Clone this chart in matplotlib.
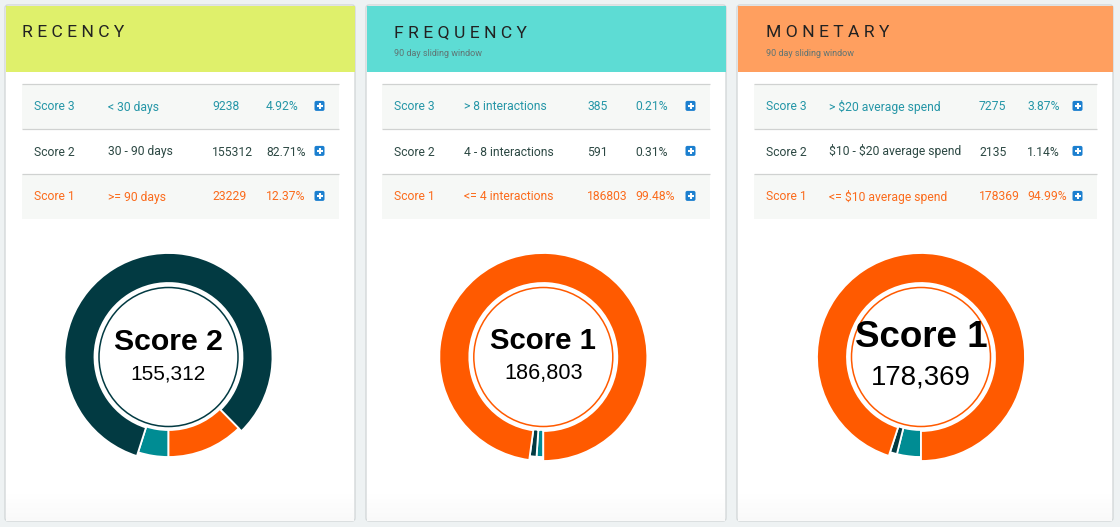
import matplotlib
matplotlib.use("Agg")
import matplotlib.pyplot as plt
from matplotlib.patches import FancyBboxPatch, Rectangle, Circle

# ---------------- data ----------------
titles = ["RECENCY", "FREQUENCY", "MONETARY"]
subtitles = ["", "90 day sliding window", "90 day sliding window"]
score_labels = ["Score 3", "Score 2", "Score 1"]
recency_conditions = ["< 30 days", "30 - 90 days", ">= 90 days"]
frequency_conditions = ["> 8 interactions", "4 - 8 interactions", "<= 4 interactions"]
monetary_conditions = ["> $20 average spend", "$10 - $20 average spend", "<= $10 average spend"]
recency_counts = [9238, 155312, 23229]
frequency_counts = [385, 591, 186803]
monetary_counts = [7275, 2135, 178369]
recency_pcts = ["4.92%", "82.71%", "12.37%"]
frequency_pcts = ["0.21%", "0.31%", "99.48%"]
monetary_pcts = ["3.87%", "1.14%", "94.99%"]
selected_scores = ["Score 2", "Score 1", "Score 1"]

conditions = [recency_conditions, frequency_conditions, monetary_conditions]
counts = [recency_counts, frequency_counts, monetary_counts]
pcts = [recency_pcts, frequency_pcts, monetary_pcts]

# ---------------- style / layout ----------------
W, H = 1120, 527
page_bg = "#eef2f3"
header_colors = ["#dff06b", "#5ddcd4", "#ff9f5f"]
text_colors = ["#2596a7", "#2c4843", "#fb6b1c"]
ring_colors = ["#008c93", "#023a42", "#ff5a00"]
icon_color = "#1b7fcf"
min_slice_fraction = 0.011  # smallest visible slice, as the chart library renders it

cards = [(5, 355), (366, 726), (737, 1113)]
card_top, card_bottom, header_bottom = 5, 521, 72
tables = [(22, 339), (382, 710), (754, 1097)]
col_x = [
    (34, 108, 212, 266, 319.5),
    (394, 464, 587, 635, 690.5),
    (766, 829, 979, 1027, 1077.5),
]
title_x = [22, 394, 766]
row_tops = [84, 129, 174]
row_h = 45
row_baselines = [110.5, 155.5, 200.5]
donut_centers = [(168.5, 357), (543.3, 357), (921, 357)]
score_fs = [21.8, 21.2, 26.5]
num_fs = [15.0, 15.6, 19.9]
score_base = [350, 349.3, 346.7]
num_base = [379.3, 379.3, 384]

fig = plt.figure(figsize=(W / 100, H / 100), dpi=100)
fig.patch.set_facecolor(page_bg)
ax = fig.add_axes([0, 0, 1, 1])
ax.set_xlim(0, W)
ax.set_ylim(H, 0)
ax.axis("off")
ax.set_facecolor(page_bg)

for i in range(3):
    x0, x1 = cards[i]
    card = FancyBboxPatch((x0, card_top), x1 - x0, card_bottom - card_top,
                          boxstyle="round,pad=0,rounding_size=3",
                          facecolor="white", edgecolor="#d3d8d9", linewidth=1.0, zorder=1)
    ax.add_patch(card)
    # subtle bottom shading
    for k in range(30):
        shade = 1.0 - 0.025 * (k / 30)
        ax.add_patch(Rectangle((x0 + 0.6, 491 + k), x1 - x0 - 1.2, 1.0,
                               facecolor=(shade, shade, shade), edgecolor="none", zorder=1.1))
    ax.add_patch(Rectangle((x0 + 0.5, card_top + 0.5), x1 - x0 - 1.0, header_bottom - card_top - 0.5,
                           facecolor=header_colors[i], edgecolor="none", zorder=2))
    # title with letter spacing
    ax.text(title_x[i], 36.7, " ".join(titles[i]),
            fontsize=12.6, family="Roboto", color="#222222", va="baseline", ha="left", zorder=3)
    if subtitles[i]:
        ax.text(title_x[i], 55.5, subtitles[i], fontsize=6.5, family="Roboto",
                color="#5f7473", va="baseline", ha="left", zorder=3)

    # table
    tx0, tx1 = tables[i]
    for r in range(3):
        bg = "#f6f8f6" if r != 1 else "white"
        ax.add_patch(Rectangle((tx0, row_tops[r]), tx1 - tx0, row_h,
                               facecolor=bg, edgecolor="none", zorder=2))
        ax.plot([tx0, tx1], [row_tops[r], row_tops[r]], color="#d0d2d1", lw=0.9, zorder=3,
                solid_capstyle="butt")
        c = text_colors[r]
        yb = row_baselines[r]
        cx = col_x[i]
        cells = [score_labels[r], conditions[i][r], str(counts[i][r]), pcts[i][r]]
        for k, s in enumerate(cells):
            ax.text(cx[k], yb, s, fontsize=8.7, family="Roboto", color=c,
                    va="baseline", parse_math=False, zorder=4)
        # plus icon
        ix, iy = cx[4], row_baselines[r] - 4.6
        ax.add_patch(FancyBboxPatch((ix - 5, iy - 5), 10, 10,
                                    boxstyle="round,pad=0,rounding_size=1.8",
                                    facecolor=icon_color, edgecolor="none", zorder=4))
        ax.plot([ix - 3, ix + 3], [iy, iy], color="white", lw=1.5, zorder=5,
                solid_capstyle="butt")
        ax.plot([ix, ix], [iy - 3, iy + 3], color="white", lw=1.5, zorder=5,
                solid_capstyle="butt")

# ---------------- donuts ----------------
half = 125
for i in range(3):
    cx, cy = donut_centers[i]
    dax = fig.add_axes([(cx - half) / W, 1 - (cy + half) / H, 2 * half / W, 2 * half / H])
    sel = score_labels.index(selected_scores[i])
    total = sum(counts[i])
    shown = [max(v, total * min_slice_fraction) for v in counts[i]]
    wedges, _ = dax.pie(shown, colors=ring_colors, radius=100, startangle=270,
                        counterclock=False,
                        wedgeprops=dict(width=27, edgecolor="white", linewidth=1.3))
    wedges[sel].set_radius(104)
    wedges[sel].set_width(30)
    dax.add_patch(Circle((0, 0), 69.5, facecolor="none", edgecolor=ring_colors[sel], lw=1.1))
    dax.set_xlim(-half, half)
    dax.set_ylim(-half, half)
    dax.set_aspect("equal")
    dax.axis("off")
    dax.text(0, cy - score_base[i], selected_scores[i], fontsize=score_fs[i],
             family="Liberation Sans", weight="bold", color="black",
             ha="center", va="baseline", zorder=6)
    dax.text(0, cy - num_base[i], f"{counts[i][sel]:,}", fontsize=num_fs[i],
             family="Liberation Sans", color="black", ha="center", va="baseline", zorder=6)

fig.savefig("out.png", dpi=100, facecolor=page_bg)
